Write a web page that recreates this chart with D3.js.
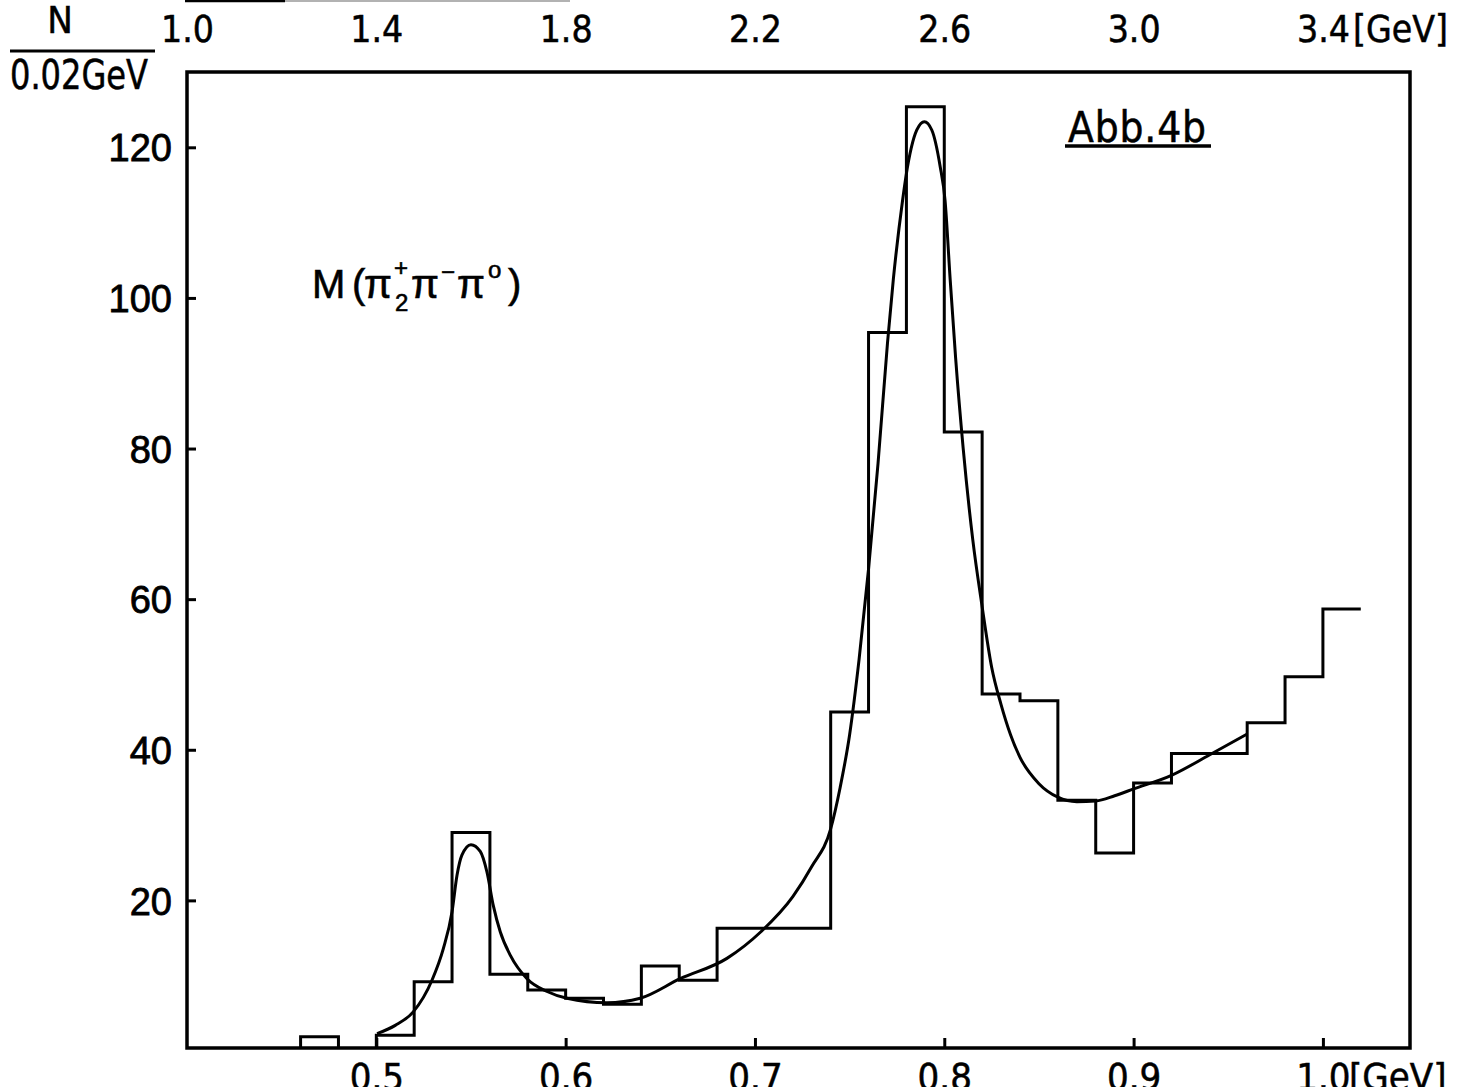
<!DOCTYPE html>
<html><head><meta charset="utf-8">
<script src="https://cdn.jsdelivr.net/npm/d3@7"></script>
<style>html,body{margin:0;padding:0;background:#fff;} svg{display:block;}</style>
</head><body><svg id="c" width="1467" height="1087"></svg>
<script>
// ---- data ----
const binStart = [0.46,0.48,0.50,0.52,0.54,0.56,0.58,0.60,0.62,0.64,0.66,0.68,0.70,0.72,0.74,0.76,0.78,0.80,0.82,0.84,0.86,0.88,0.90,0.92,0.94,0.96,0.98,1.00];
const binCounts = [1.9,0,2.1,9.2,29.0,10.2,8.1,7.0,6.2,11.3,9.4,16.3,16.3,16.3,45.0,95.4,125.4,82.2,47.4,46.5,33.3,26.3,35.6,39.5,39.5,43.6,49.7,58.7];
const binWidth = 0.02;
const fitMass  = [0.5004,0.510,0.5195,0.5294,0.5354,0.540,0.5426,0.5452,0.550,0.5549,0.5584,0.5618,0.5655,0.5708,0.5796,0.5902,0.6007,0.6218,0.6394,0.6605,0.6852,0.703,0.720,0.730,0.740,0.745,0.750,0.755,0.760,0.765,0.770,0.7731,0.778,0.7798,0.7855,0.7895,0.7934,0.7978,0.8004,0.8031,0.806,0.810,0.815,0.820,0.825,0.830,0.835,0.840,0.850,0.860,0.870,0.880,0.890,0.900,0.920,0.940,0.960];
const fitCount = [2.3,3.4,5.2,9.4,13.6,18.5,23.3,26.0,27.4,26.5,23.8,19.3,15.8,12.7,9.6,7.9,7.0,6.4,7.0,9.6,12.3,15.8,20.5,24.5,29.5,35,42,52,64,78,94,102.5,113,116.2,122.3,123.4,122.3,117.5,113,102.5,92,80,68,59,51,46,42,39,35.5,33.7,33.1,33.2,33.9,34.8,36.6,39.3,42.1];
const xTickValues = [0.5,0.6,0.7,0.8,0.9,1.0];
const xTickLabels = ["0.5","0.6","0.7","0.8","0.9","1.0"];
const topTickValues = [1.0,1.4,1.8,2.2,2.6,3.0,3.4];
const topTickLabels = ["1.0","1.4","1.8","2.2","2.6","3.0","3.4"];
const yTickValues = [20,40,60,80,100,120];
const yTickLabels = ["20","40","60","80","100","120"];

// ---- layout ----
const L = 187, R = 1410, T = 72, B = 1048;
const NARROW = "'Liberation Sans Narrow','DejaVu Sans Condensed','Arial Narrow',sans-serif";
const SANS = "'Liberation Sans',Arial,sans-serif";
const svg = d3.select("#c");

const x = d3.scaleLinear().domain([0.4, 1.046]).range([L, R]);
const xTop = d3.scaleLinear().domain([1.0, 3.584]).range([L, R]);
const y = d3.scaleLinear().domain([0, 130]).range([1051, T]);

svg.append("defs").append("clipPath").attr("id","clip")
  .append("rect").attr("x", L).attr("y", T).attr("width", R - L).attr("height", B - T);

// histogram
const p = d3.path();
p.moveTo(x(binStart[0]), y(0));
binStart.forEach((s, i) => {
  const c = binCounts[i];
  p.lineTo(x(s), y(c));
  p.lineTo(x(s + binWidth), y(c));
});
svg.append("path").attr("d", p.toString()).attr("fill","none")
  .attr("stroke","#000").attr("stroke-width",3).attr("clip-path","url(#clip)");

// fit curve
const line = d3.line().x((d,i)=>x(fitMass[i])).y((d,i)=>y(fitCount[i])).curve(d3.curveMonotoneX);
svg.append("path").attr("d", line(fitMass)).attr("fill","none")
  .attr("stroke","#000").attr("stroke-width",3);

// frame
svg.append("rect").attr("x",L).attr("y",T).attr("width",R-L).attr("height",B-T)
  .attr("fill","none").attr("stroke","#000").attr("stroke-width",3.5);

// y axis
const gy = svg.append("g").attr("transform",`translate(${L},0)`)
  .call(d3.axisLeft(y).tickValues(yTickValues).tickSize(-9).tickPadding(15)
    .tickFormat((d,i)=>yTickLabels[i]));
gy.select(".domain").remove();
gy.selectAll("line").attr("stroke","#000").attr("stroke-width",3);
gy.selectAll("text").attr("font-family",SANS).attr("font-size",38).attr("fill","#000")
  .attr("dy","0.36em").attr("stroke","#000").attr("stroke-width",0.8);

// bottom axis
const gx = svg.append("g").attr("transform",`translate(0,${B})`)
  .call(d3.axisBottom(x).tickValues(xTickValues).tickSize(-10).tickPadding(15)
    .tickFormat((d,i)=>xTickLabels[i]));
gx.select(".domain").remove();
gx.selectAll("line").attr("stroke","#000").attr("stroke-width",3);
gx.selectAll("text").attr("font-family",NARROW).attr("font-size",38).attr("fill","#000")
  .attr("stroke","#000").attr("stroke-width",0.5);
svg.append("text").attr("x", x(1.0) + 26).attr("y", 1090).attr("font-family",NARROW)
  .attr("font-size",38).attr("stroke","#000").attr("stroke-width",0.5).text("[GeV]");

// top axis (labels only)
const gt = svg.append("g").attr("transform",`translate(0,42)`)
  .call(d3.axisTop(xTop).tickValues(topTickValues).tickSize(0).tickPadding(0)
    .tickFormat((d,i)=>topTickLabels[i]));
gt.select(".domain").remove();
gt.selectAll("line").remove();
gt.selectAll("text").attr("font-family",NARROW).attr("font-size",37).attr("fill","#000").attr("dy","0")
  .attr("stroke","#000").attr("stroke-width",0.5);
svg.append("text").attr("x", xTop(3.4) + 30).attr("y", 42).attr("font-family",NARROW)
  .attr("font-size",37).attr("stroke","#000").attr("stroke-width",0.5).text("[GeV]");

// scan artefact line at top edge
svg.append("line").attr("x1",185).attr("x2",285).attr("y1",1).attr("y2",1).attr("stroke","#000").attr("stroke-width",2.5);
svg.append("line").attr("x1",285).attr("x2",570).attr("y1",1).attr("y2",1).attr("stroke","#999").attr("stroke-width",1.5);

// y label N / 0.02GeV
svg.append("text").attr("x",60).attr("y",33).attr("text-anchor","middle")
  .attr("font-family",NARROW).attr("font-size",38).attr("stroke","#000").attr("stroke-width",0.5).text("N");
svg.append("line").attr("x1",10).attr("x2",155).attr("y1",51).attr("y2",51)
  .attr("stroke","#000").attr("stroke-width",3);
svg.append("text").attr("x",10).attr("y",89).attr("font-family",NARROW)
  .attr("font-size",40).attr("textLength",138).attr("lengthAdjust","spacingAndGlyphs")
  .attr("stroke","#000").attr("stroke-width",0.5).text("0.02GeV");

// Abb.4b
svg.append("text").attr("x",1068).attr("y",142).attr("font-family",NARROW)
  .attr("font-size",42).attr("textLength",138).attr("lengthAdjust","spacing")
  .attr("stroke","#000").attr("stroke-width",0.5).text("Abb.4b");
svg.append("line").attr("x1",1065).attr("x2",1211).attr("y1",146).attr("y2",146)
  .attr("stroke","#000").attr("stroke-width",3.5);

// M(pi2+ pi- pi0)
const lab = svg.append("g").attr("font-family",SANS).attr("fill","#000")
  .attr("stroke","#000").attr("stroke-width",0.6);
const piece = (t, px, py, fs, w) => {
  const e = lab.append("text").attr("x",px).attr("y",py).attr("font-size",fs).text(t);
  if (w) e.attr("textLength",w).attr("lengthAdjust","spacingAndGlyphs");
};
piece("M", 312, 298, 40);
piece("(", 352, 298, 40);
piece("π", 364, 298, 40, 28);
piece("+", 394, 276, 24);
piece("2", 395, 311, 24);
piece("π", 411, 298, 40, 28);
piece("−", 441, 280, 24);
piece("π", 457, 298, 40, 28);
piece("o", 488, 278, 24);
piece(")", 508, 298, 40);
</script></body></html>
